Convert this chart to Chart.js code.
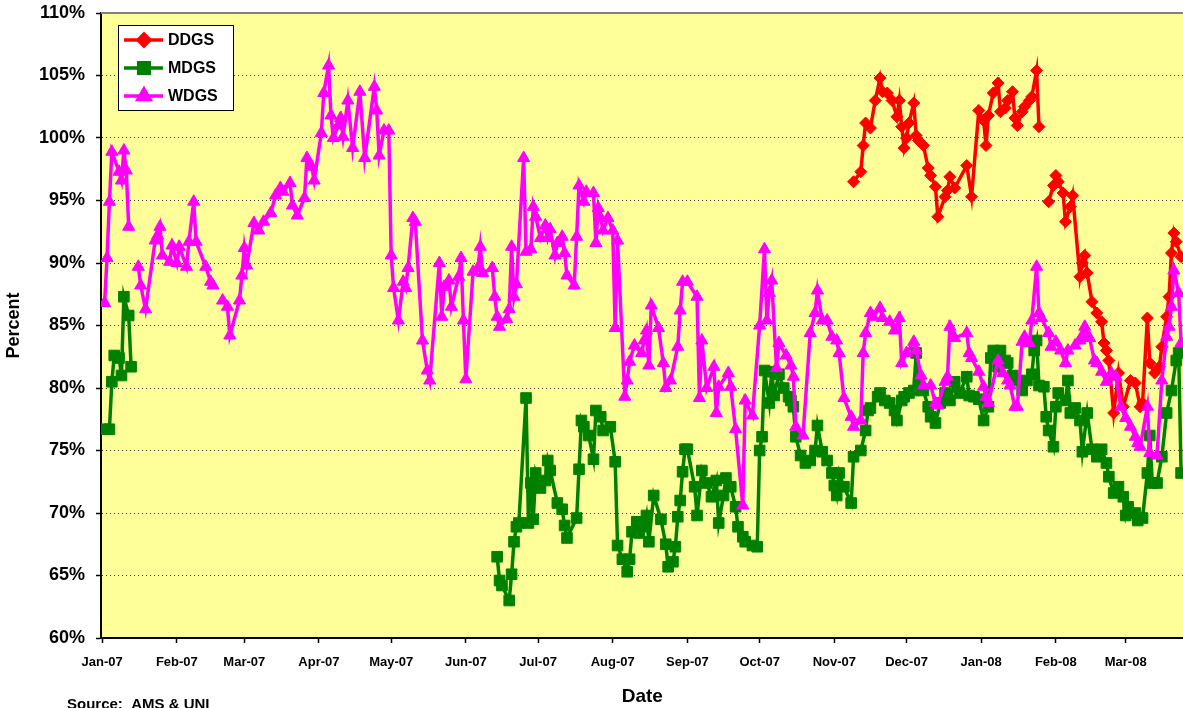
<!DOCTYPE html>
<html>
<head>
<meta charset="utf-8">
<script src="https://cdn.jsdelivr.net/npm/chart.js@4.4.0/dist/chart.umd.min.js"></script>
<style>
  html, body { margin: 0; padding: 0; background: #fff; overflow: hidden; }
  #wrap { width: 1183px; height: 708px; overflow: hidden; }
</style>
</head>
<body>
<!-- the plot runs past the right edge of the picture, as in the original -->
<div id="wrap"><canvas id="chart" width="1192" height="708"></canvas></div>
<script>
// x values are days counted from 1 Jan 2007
const monthTicks = [0, 31, 59, 90, 120, 151, 181, 212, 243, 273, 304, 334, 365, 396, 425]
const monthLabels = ['Jan-07', 'Feb-07', 'Mar-07', 'Apr-07', 'May-07', 'Jun-07', 'Jul-07', 'Aug-07',
  'Sep-07', 'Oct-07', 'Nov-07', 'Dec-07', 'Jan-08', 'Feb-08', 'Mar-08']
const yTicks = [60, 65, 70, 75, 80, 85, 90, 95, 100, 105, 110]

const ddgsDays = [312, 315, 316, 317, 319, 321, 323, 324, 326, 328, 330, 331, 332, 333, 334, 335, 337, 338, 339,
  341, 343, 344, 346, 347, 350, 351, 352, 354, 359, 361, 364, 366, 367, 368, 370, 372, 373, 375, 376, 378, 379,
  380, 382, 383, 385, 386, 388, 389, 391, 393, 395, 396, 397, 399, 400, 402, 403, 406, 407, 408, 409, 411, 413,
  415, 416, 417, 418, 420, 422, 424, 427, 429, 431, 432, 434, 435, 437, 439, 440, 442, 443, 444, 445, 446, 448]
const ddgsValues = [96.5, 97.3, 99.4, 101.2, 100.8, 103.0, 104.8, 103.7, 103.6, 103.0, 101.7, 103.0, 100.9, 99.2,
  100.0, 101.2, 102.8, 100.2, 99.8, 99.4, 97.6, 97.0, 96.1, 93.7, 95.3, 95.8, 96.9, 96.0, 97.8, 95.3, 102.2, 101.4,
  99.4, 101.8, 103.6, 104.4, 102.1, 102.4, 103.0, 103.7, 101.6, 101.0, 102.1, 102.5, 103.0, 103.3, 105.4, 100.9,
  null, 94.9, 96.2, 97.0, 96.5, 95.6, 93.3, 94.5, 95.4, 88.9, 90.0, 90.6, 89.2, 86.9, 86.0, 85.3, 83.6, 83.0, 82.2,
  78.0, 81.2, 78.5, 80.6, 80.4, 78.5, 78.8, 85.6, 82.0, 81.2, 81.7, 83.3, 85.7, 87.3, 90.8, 92.4, 91.7, 90.5]

const mdgsDays = [1, 3, 4, 5, 7, 8, 9, 11, 12, 14,
  164, 165, 166, 169, 170, 171, 172, 173, 176, 177, 178, 179, 180, 182, 184, 185, 186, 189, 191, 192, 193, 197,
  198, 199, 200, 202, 204, 205, 207, 208, 211, 213, 214, 216, 218, 219, 220, 222, 223, 225, 226, 227, 229, 232,
  234, 235, 237, 238, 239, 240, 241, 242, 243, 246, 247, 249, 251, 253, 255, 256, 258, 259, 261, 263, 264, 266,
  267, 270, 272, 273, 274, 275, 277, 278, 279, 281, 283, 285, 286, 287, 288, 290, 292, 294, 296, 297, 299, 301,
  303, 304, 305, 306, 308, 311, 312, 315, 317, 318, 319, 322, 323, 325, 327, 329, 330, 332, 333, 335, 337, 338,
  339, 341, 343, 344, 346, 348, 350, 352, 354, 356, 359, 360, 362, 364, 366, 368, 369, 370, 372, 373, 375, 376,
  378, 380, 382, 384, 386, 387, 388, 389, 391, 392, 393, 395, 396, 397, 400, 401, 402, 404, 406, 407, 409, 411,
  413, 415, 417, 418, 420, 422, 424, 425, 426, 429, 430, 432, 434, 435, 436, 438, 440, 442, 444, 446, 447, 448]
const mdgsValues = [76.7, 76.7, 80.5, 82.6, 82.4, 81.0, 87.3, 85.8, 81.7, null,
  66.5, 64.6, 64.2, 63.0, 65.1, 67.7, 68.9, 69.2, 79.2, 69.2, 72.4, 69.5, 73.2, 72.0, 72.6, 74.2, 73.4, 70.8, 70.3,
  69.0, 68.0, 69.6, 73.5, 77.4, 76.9, 76.2, 74.3, 78.2, 77.7, 76.6, 76.9, 74.1, 67.4, 66.3, 65.3, 66.3, 68.5, 69.3,
  68.4, 68.9, 69.8, 67.7, 71.4, 69.5, 67.5, 65.7, 66.1, 67.3, 69.7, 71.0, 73.3, 75.1, 75.1, 72.1, 69.8, 73.4, 72.4,
  71.3, 72.6, 69.2, 71.4, 72.8, 72.1, 70.5, 68.9, 68.1, 67.7, 67.4, 67.3, 75.0, 76.1, 81.4, 78.8, 81.3, 79.4, 81.1,
  80.0, 79.3, 79.0, 78.5, 76.1, 74.6, 74.0, 74.2, 75.0, 77.0, 74.9, 74.2, 73.2, 72.2, 71.4, 73.2, 72.1, 70.8, 74.5,
  75.0, 76.6, 78.2, 78.4, 79.3, 79.6, 79.0, 78.8, 78.2, 77.4, 79.0, 79.3, 79.6, 79.8, 82.8, 80.4, 79.8, 78.5, 77.7,
  77.2, 78.8, 79.6, 79.0, 80.5, 79.6, 80.9, 79.4, 79.3, 79.1, 77.4, 78.5, 82.4, 83.0, 81.7, 83.0, 82.2, 82.0, 81.0,
  80.6, 79.8, 80.6, 81.1, 83.0, 83.8, 80.2, 80.1, 77.7, 76.6, 75.3, 78.5, 79.6, 79.0, 80.6, 78.0, 78.4, 77.4, 74.9,
  78.0, 75.1, 74.5, 75.1, 74.0, 72.9, 71.6, 72.1, 71.3, 69.8, 70.5, 70.0, 69.4, 69.6, 73.2, 76.2, 72.4, 72.4, 74.5,
  78.0, 79.8, 82.2, 82.8, 73.2]

const wdgsDays = [1, 2, 3, 4, 7, 8, 9, 10, 11, 13, 15, 16, 18, 22, 23, 24, 25, 28, 29, 31, 32, 35, 36, 38, 39, 43,
  45, 46, 48, 50, 52, 53, 57, 58, 59, 60, 63, 65, 67, 70, 72, 74, 75, 78, 79, 81, 84, 85, 87, 88, 91, 92, 94, 95,
  96, 98, 99, 100, 102, 104, 107, 109, 113, 114, 115, 117, 119, 120, 121, 123, 125, 126, 127, 129, 130, 133, 135,
  136, 140, 141, 142, 144, 145, 148, 149, 150, 151, 154, 156, 157, 158, 162, 163, 164, 165, 168, 169, 170, 171,
  172, 175, 176, 178, 179, 180, 182, 184, 185, 186, 188, 189, 191, 192, 193, 196, 197, 198, 200, 201, 204, 205,
  206, 207, 208, 210, 212, 213, 214, 217, 218, 219, 221, 224, 225, 226, 227, 228, 231, 233, 234, 236, 239, 240,
  241, 243, 247, 248, 249, 251, 254, 255, 256, 260, 261, 263, 266, 267, 270, 273, 275, 276, 277, 278, 280, 281,
  284, 286, 287, 288, 291, 294, 296, 297, 299, 301, 303, 305, 306, 308, 311, 312, 315, 316, 317, 319, 320, 323,
  324, 327, 329, 331, 332, 334, 337, 338, 340, 341, 344, 346, 347, 350, 351, 352, 354, 359, 360, 361, 364, 366,
  367, 368, 372, 374, 376, 377, 379, 380, 382, 383, 385, 386, 388, 389, 390, 393, 394, 396, 398, 400, 401, 404,
  406, 407, 408, 410, 412, 413, 415, 417, 419, 421, 423, 425, 427, 429, 430, 431, 434, 435, 438, 440, 442, 443,
  444, 445, 447, 448]
const wdgsValues = [86.8, 90.4, 94.9, 98.9, 97.3, 96.6, 99.0, 97.4, 92.9, null, 89.7, 88.2, 86.3, 91.8, 92.2, 92.9,
  90.6, 90.1, 91.4, 90.0, 91.3, 89.7, 91.7, 94.9, 91.7, 89.7, 88.5, 88.2, null, 87.0, 86.5, 84.2, 87.0, 89.0, 91.2,
  89.8, 93.2, 92.6, 93.3, 94.0, 95.4, 96.0, 95.7, 96.4, 94.6, 93.8, 95.2, 98.4, 97.7, 96.6, 100.4, 103.6, 105.8,
  101.8, 100.0, 101.0, 101.6, 100.1, 103.0, 99.2, 103.7, 98.4, 104.1, 102.2, 98.6, 100.6, 100.6, 90.6, 88.0, 85.4,
  88.5, 88.0, 89.6, 93.6, 93.3, 83.8, 81.4, 80.6, 90.0, 85.7, 88.1, 88.6, 86.5, 88.9, 90.4, 85.4, 80.7, 89.3, 89.6,
  91.3, 89.2, 89.6, 87.3, 85.7, 84.9, 85.5, 86.3, 91.3, 87.3, 88.3, 98.4, 90.9, 91.1, 94.5, 93.7, 92.0, 93.0, 92.0,
  92.7, 90.6, 91.6, 92.1, 90.8, 89.0, 88.2, 92.1, 96.2, 94.9, 95.7, 95.6, 91.6, 94.4, 93.6, 92.6, 93.6, 92.6, 84.8,
  91.8, 79.3, 80.6, 82.1, 83.4, 82.8, 83.8, 84.6, 81.8, 86.6, 84.8, 82.0, 80.0, 80.6, 83.3, 86.2, 88.5, 88.5, 87.3,
  79.2, 83.8, 80.0, 81.7, 78.0, 80.1, 81.2, 80.1, 76.7, 70.6, 79.0, 77.8, 85.0, 91.1, 85.4, 87.6, 88.6, 81.6, 83.6,
  82.6, 81.8, 80.9, 76.9, 76.2, 84.4, 86.0, 87.8, 85.4, 85.4, 84.1, 83.8, 82.8, 79.2, 77.7, 76.9, 77.4, 82.8, 84.4,
  86.0, 85.7, 86.4, 85.6, 85.3, 84.6, 85.6, 82.0, 82.8, 83.7, 83.0, 81.0, 80.2, 80.2, 78.8, 78.6, 80.5, 80.9, 84.9,
  84.0, 84.4, 82.8, 82.4, 81.3, 80.1, 79.3, 78.8, 82.2, 81.2, 80.6, 80.2, 78.5, 78.5, 83.7, 84.1, 83.6, 85.4, 89.7,
  86.0, 85.6, 84.4, 83.3, 83.7, 83.0, 82.0, 83.0, 83.4, 83.8, 84.2, 84.9, 84.0, 82.2, 82.0, 81.3, 80.5, 81.2, 80.9,
  78.5, 77.6, 76.9, 76.1, 75.6, 75.3, 78.5, 74.8, 74.6, 80.6, 84.1, 84.9, 86.5, 89.4, 87.6, 83.6]

const FONT = "'Liberation Sans', Arial, sans-serif"

function points(days, values) {
  return days.map((d, i) => ({ x: d, y: values[i] }))
}

function series(label, days, values, color, pointStyle, radius, order) {
  return {
    label,
    data: points(days, values),
    borderColor: color,
    backgroundColor: color,
    pointBackgroundColor: color,
    pointBorderColor: color,
    borderWidth: 3.5,
    pointStyle,
    pointRadius: radius,
    pointHoverRadius: radius,
    pointBorderWidth: 1,
    tension: 0,
    spanGaps: false,
    order
  }
}

const datasets = [
  series('DDGS', ddgsDays, ddgsValues, '#ff0000', 'rectRot', 6, 2),
  series('MDGS', mdgsDays, mdgsValues, '#008000', 'rect', 7.5, 1),
  series('WDGS', wdgsDays, wdgsValues, '#ff00ff', 'triangle', 7, 0)
]

const framePlugin = {
  id: 'frame',
  beforeDraw(chart) {
    const { ctx, chartArea: a } = chart
    ctx.save()
    ctx.fillStyle = '#ffffff'
    ctx.fillRect(0, 0, chart.width, chart.height)
    ctx.fillStyle = '#ffff99'
    ctx.fillRect(a.left, a.top, a.right - a.left, a.bottom - a.top)
    ctx.restore()
  },
  afterDraw(chart) {
    const { ctx, chartArea: a } = chart
    ctx.save()
    // top border of the plot area
    ctx.strokeStyle = '#808080'
    ctx.lineWidth = 2
    ctx.beginPath()
    ctx.moveTo(a.left, a.top)
    ctx.lineTo(a.right, a.top)
    ctx.stroke()

    // legend box
    ctx.fillStyle = '#ffffff'
    ctx.fillRect(118, 25, 115, 85)
    ctx.strokeStyle = '#000000'
    ctx.lineWidth = 1
    ctx.strokeRect(118.5, 25.5, 115, 85)
    const rows = [40, 68, 96]
    chart.data.datasets.forEach((ds, i) => {
      const y = rows[i]
      ctx.strokeStyle = ds.borderColor
      ctx.lineWidth = 3.5
      ctx.beginPath()
      ctx.moveTo(124, y)
      ctx.lineTo(163, y)
      ctx.stroke()
      ctx.fillStyle = ds.borderColor
      ctx.strokeStyle = ds.borderColor
      Chart.helpers.drawPoint(ctx, { pointStyle: ds.pointStyle, radius: ds.pointRadius, borderWidth: 1, rotation: 0 }, 144, y)
      ctx.fillStyle = '#000000'
      ctx.font = 'bold 16px ' + FONT
      ctx.textBaseline = 'middle'
      ctx.textAlign = 'left'
      ctx.fillText(ds.label, 168, y + 1)
    })

    ctx.fillStyle = '#000000'
    ctx.font = 'bold 15px ' + FONT
    ctx.textBaseline = 'top'
    ctx.textAlign = 'left'
    ctx.fillText('Source:  AMS & UNI', 67, 697)
    ctx.restore()
  }
}

new Chart(document.getElementById('chart').getContext('2d'), {
  type: 'line',
  data: { datasets },
  plugins: [framePlugin],
  options: {
    responsive: false,
    animation: false,
    devicePixelRatio: 1,
    layout: { padding: { left: 0, top: 13, right: 0, bottom: 0 } },
    plugins: {
      legend: { display: false },
      tooltip: { enabled: false }
    },
    scales: {
      x: {
        type: 'linear',
        min: -0.5,
        max: 449,
        afterFit: (scale) => {
          scale.height = 70
          scale.paddingLeft = 0
          scale.paddingRight = 0
        },
        afterBuildTicks: (scale) => { scale.ticks = monthTicks.map(v => ({ value: v })) },
        ticks: {
          autoSkip: false,
          maxRotation: 0,
          minRotation: 0,
          padding: 12,
          color: '#000',
          font: { family: FONT, size: 13, weight: 'bold' },
          callback: (v) => monthLabels[monthTicks.indexOf(v)]
        },
        grid: { drawOnChartArea: false, drawTicks: true, tickLength: 5, tickColor: '#000', tickWidth: 1.5 },
        border: { display: true, color: '#000', width: 2 },
        title: {
          display: true,
          text: 'Date',
          color: '#000',
          font: { family: FONT, size: 19, weight: 'bold' },
          padding: { top: 0, bottom: 0 }
        }
      },
      y: {
        min: 60,
        max: 110,
        afterFit: (scale) => {
          scale.width = 101
          scale.paddingTop = 0
          scale.paddingBottom = 0
        },
        afterBuildTicks: (scale) => { scale.ticks = yTicks.map(v => ({ value: v })) },
        ticks: {
          padding: 11,
          color: '#000',
          font: { family: FONT, size: 18, weight: 'bold' },
          callback: (v) => v + '%'
        },
        grid: {
          color: (c) => (c.tick && (c.tick.value === 60 || c.tick.value === 110)) ? 'rgba(0,0,0,0)' : '#333',
          lineWidth: 1,
          tickColor: '#000',
          tickLength: 5,
          tickWidth: 1.5
        },
        border: { display: true, color: '#000', width: 2, dash: [1, 3] },
        title: {
          display: true,
          text: 'Percent',
          color: '#000',
          font: { family: FONT, size: 18, weight: 'bold' },
          padding: { top: 3, bottom: 0 }
        }
      }
    }
  }
})
</script>
</body>
</html>
